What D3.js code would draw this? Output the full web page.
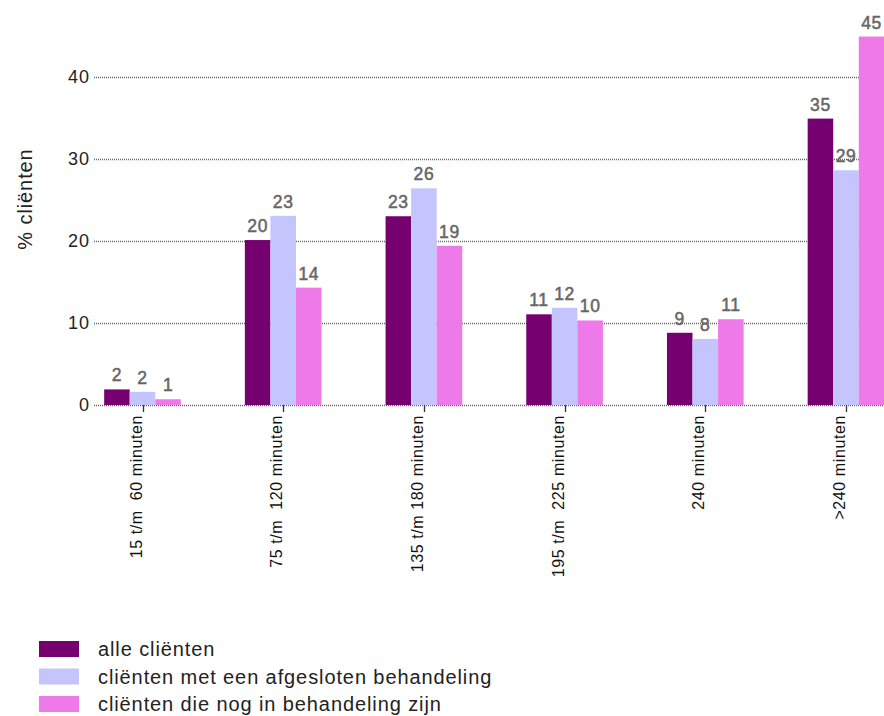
<!DOCTYPE html>
<html>
<head>
<meta charset="utf-8">
<script src="https://cdn.jsdelivr.net/npm/d3@7"></script>
<style>
  html, body { margin: 0; padding: 0; background: #fff; }
  svg { display: block; font-family: "Liberation Sans", Arial, sans-serif; }
</style>
</head>
<body>
<svg id="chart" width="884" height="716"></svg>
<script>
const categories = ["15 t/m  60 minuten", "75 t/m  120 minuten", "135 t/m 180 minuten", "195 t/m  225 minuten", "240 minuten", ">240 minuten"];
const seriesNames = ["alle cliënten", "cliënten met een afgesloten behandeling", "cliënten die nog in behandeling zijn"];
const alleClienten = [1.9, 20.1, 23.0, 11.05, 8.8, 34.9];
const afgesloten = [1.6, 23.05, 26.4, 11.85, 8.05, 28.6];
const inBehandeling = [0.7, 14.3, 19.4, 10.3, 10.45, 44.9];
const valueLabels = [
  ["2", "20", "23", "11", "9", "35"],
  ["2", "23", "26", "12", "8", "29"],
  ["1", "14", "19", "10", "11", "45"]
];
const yTicks = [0, 10, 20, 30, 40];
const colors = ["#770070", "#c5c5fd", "#ee7ae9"];

const seriesValues = [alleClienten, afgesloten, inBehandeling];
const svg = d3.select("#chart");

const y = d3.scaleLinear().domain([0, 45]).range([405, 35.7]);
const x0 = d3.scaleBand().domain(categories).range([72.15, 916.35]).paddingInner(0.455).paddingOuter(0.2275);
const x1 = d3.scaleBand().domain(seriesNames).range([0, x0.bandwidth()]);

// grid lines
svg.append("g").selectAll("line").data(yTicks).join("line")
  .attr("x1", 94).attr("x2", 884)
  .attr("y1", d => Math.round(y(d)) + 0.5).attr("y2", d => Math.round(y(d)) + 0.5)
  .attr("stroke", "#666").attr("stroke-width", 1.3).attr("stroke-dasharray", "1,1");

// y tick labels
svg.append("g").selectAll("text").data(yTicks).join("text")
  .attr("x", 90).attr("y", d => y(d)).attr("dy", "0.36em")
  .attr("text-anchor", "end").attr("font-size", 18).attr("letter-spacing", 1).attr("fill", "#222")
  .text(d => d);

// y title
svg.append("text")
  .attr("transform", "translate(32,199) rotate(-90)")
  .attr("text-anchor", "middle").attr("font-size", 20).attr("letter-spacing", 0.9).attr("fill", "#222")
  .text("% cliënten");

// bars
const groups = svg.append("g").selectAll("g").data(categories).join("g")
  .attr("transform", d => `translate(${x0(d)},0)`);

groups.each(function(cat, ci) {
  const g = d3.select(this);
  seriesNames.forEach((s, si) => {
    const v = seriesValues[si][ci];
    g.append("rect")
      .attr("x", x1(s)).attr("width", x1.bandwidth())
      .attr("y", y(v)).attr("height", y(0) - y(v))
      .attr("fill", colors[si]);
    g.append("text")
      .attr("x", x1(s) + x1.bandwidth() / 2).attr("y", y(v) - 8)
      .attr("text-anchor", "middle").attr("font-size", 17.5)
      .attr("letter-spacing", 0.6)
      .attr("fill", "#666").attr("stroke", "#666").attr("stroke-width", 0.5)
      .text(valueLabels[si][ci]);
  });
});

// x ticks
svg.append("g").selectAll("line").data(categories).join("line")
  .attr("x1", d => Math.round(x0(d) + x0.bandwidth() / 2) + 0.5)
  .attr("x2", d => Math.round(x0(d) + x0.bandwidth() / 2) + 0.5)
  .attr("y1", 405).attr("y2", 412)
  .attr("stroke", "#333").attr("stroke-width", 1.3);

// x labels
svg.append("g").selectAll("text").data(categories).join("text")
  .attr("transform", d => `translate(${x0(d) + x0.bandwidth() / 2 - 1},415) rotate(-90)`)
  .attr("text-anchor", "end").attr("font-size", 16).attr("letter-spacing", 0.6).attr("fill", "#111")
  .style("white-space", "pre")
  .text(d => d);

// legend
const legend = svg.append("g").selectAll("g").data(seriesNames).join("g")
  .attr("transform", (d, i) => `translate(39,${641 + i * 27.5})`);
legend.append("rect").attr("width", 40).attr("height", 16).attr("fill", (d, i) => colors[i]);
legend.append("text").attr("x", 59).attr("y", 8).attr("dy", "0.36em")
  .attr("font-size", 20).attr("letter-spacing", 0.9).attr("fill", "#222").text(d => d);
</script>
</body>
</html>
